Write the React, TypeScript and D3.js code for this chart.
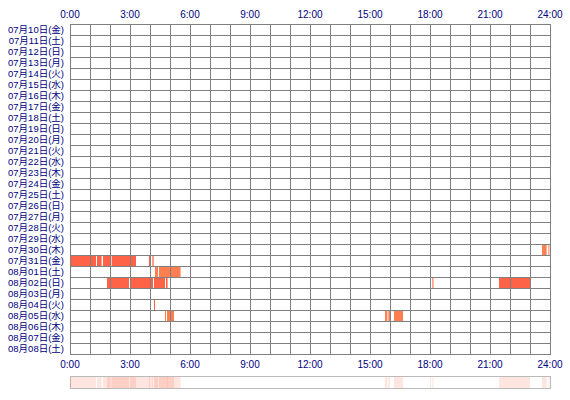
import React from "react";
import * as d3 from "d3";

const dayLabels = [
  "07月10日(金)", "07月11日(土)", "07月12日(日)", "07月13日(月)", "07月14日(火)",
  "07月15日(水)", "07月16日(木)", "07月17日(金)", "07月18日(土)", "07月19日(日)",
  "07月20日(月)", "07月21日(火)", "07月22日(水)", "07月23日(木)", "07月24日(金)",
  "07月25日(土)", "07月26日(日)", "07月27日(月)", "07月28日(火)", "07月29日(水)",
  "07月30日(木)", "07月31日(金)", "08月01日(土)", "08月02日(日)", "08月03日(月)",
  "08月04日(火)", "08月05日(水)", "08月06日(木)", "08月07日(金)", "08月08日(土)",
];

const hourTicks = [0, 3, 6, 9, 12, 15, 18, 21, 24];
const tickLabels = ["0:00", "3:00", "6:00", "9:00", "12:00", "15:00", "18:00", "21:00", "24:00"];

// segments: day index, start hour, end hour, kind (0 = tomato, 1 = coral)
const segDay = [20, 20, 21, 21, 21, 21, 21, 21, 22, 22, 23, 23, 23, 23, 23, 23, 23, 25, 26, 26, 26, 26, 26];
const segStart = [23.6, 23.92, 0, 1.35, 1.65, 2.08, 3.95, 4.12, 4.25, 4.45, 1.85, 3.0, 4.2, 4.8, 18.0, 18.12, 21.45, 4.2, 4.75, 4.85, 15.75, 15.92, 16.2];
const segEnd = [23.83, 23.97, 1.3, 1.58, 2.03, 3.3, 4.0, 4.18, 4.4, 5.53, 2.95, 4.15, 4.75, 4.88, 18.05, 18.17, 23.0, 4.25, 4.8, 5.2, 15.87, 16.0, 16.65];
const segKind = [1, 1, 0, 0, 0, 0, 0, 0, 1, 1, 0, 0, 0, 0, 0, 0, 0, 0, 1, 1, 1, 1, 1];

const kindColors = ["#ff6347", "#ff7f50"];

export default function App() {
  const W = 570, H = 400;
  const x = d3.scaleLinear().domain([0, 24]).range([70, 550]);
  const y = d3.scaleBand<number>().domain(d3.range(dayLabels.length)).range([24, 354]);
  const rowH = y.bandwidth();
  const hours = d3.range(0, 25);
  const segs = segDay.map((d, i) => ({ d, s: segStart[i], e: segEnd[i], k: segKind[i] }));
  const stripTop = 376, stripBot = 388;
  const textColor = "#000080";
  const font = "'Liberation Sans', 'Noto Sans CJK JP', sans-serif";

  return (
    <svg width={W} height={H} style={{ position: "absolute", left: 0, top: 0, background: "#fff" }}>
      <rect x={0} y={0} width={W} height={H} fill="#fff" />
      {hourTicks.map((h, i) => (
        <text key={"tt" + i} x={x(h)} y={18} textAnchor="middle" fontSize={10} fill={textColor} fontFamily={font}>
          {tickLabels[i]}
        </text>
      ))}
      {dayLabels.map((lab, i) => (
        <text key={"dl" + i} x={64} y={(y(i) as number) + rowH / 2 + 3.5} textAnchor="end" fontSize={9.5} fill={textColor} fontFamily={font}>
          {lab}
        </text>
      ))}
      {segs.map((s, i) => (
        <rect key={"b" + i} x={x(s.s)} y={(y(s.d) as number) + 1} width={Math.max(1, x(s.e) - x(s.s))} height={rowH - 1} fill={kindColors[s.k]} />
      ))}
      {hours.map((h) => (
        <line key={"v" + h} x1={Math.round(x(h)) + 0.5} x2={Math.round(x(h)) + 0.5} y1={24} y2={355} stroke="#808080" strokeWidth={1} />
      ))}
      {d3.range(dayLabels.length + 1).map((i) => {
        const yy = Math.round(24 + i * rowH) + 0.5;
        return <line key={"h" + i} x1={70} x2={551} y1={yy} y2={yy} stroke="#808080" strokeWidth={1} />;
      })}
      {hourTicks.map((h, i) => (
        <text key={"bt" + i} x={x(h)} y={368} textAnchor="middle" fontSize={10} fill={textColor} fontFamily={font}>
          {tickLabels[i]}
        </text>
      ))}
      <rect x={70.5} y={stripTop + 0.5} width={480} height={stripBot - stripTop} fill="#fff" stroke="#bbbbbb" />
      {segs.map((s, i) => (
        <rect key={"s" + i} x={x(s.s)} y={stripTop + 1} width={Math.max(1, x(s.e) - x(s.s))} height={stripBot - stripTop - 1} fill="#ff6347" fillOpacity={0.17} />
      ))}
    </svg>
  );
}
